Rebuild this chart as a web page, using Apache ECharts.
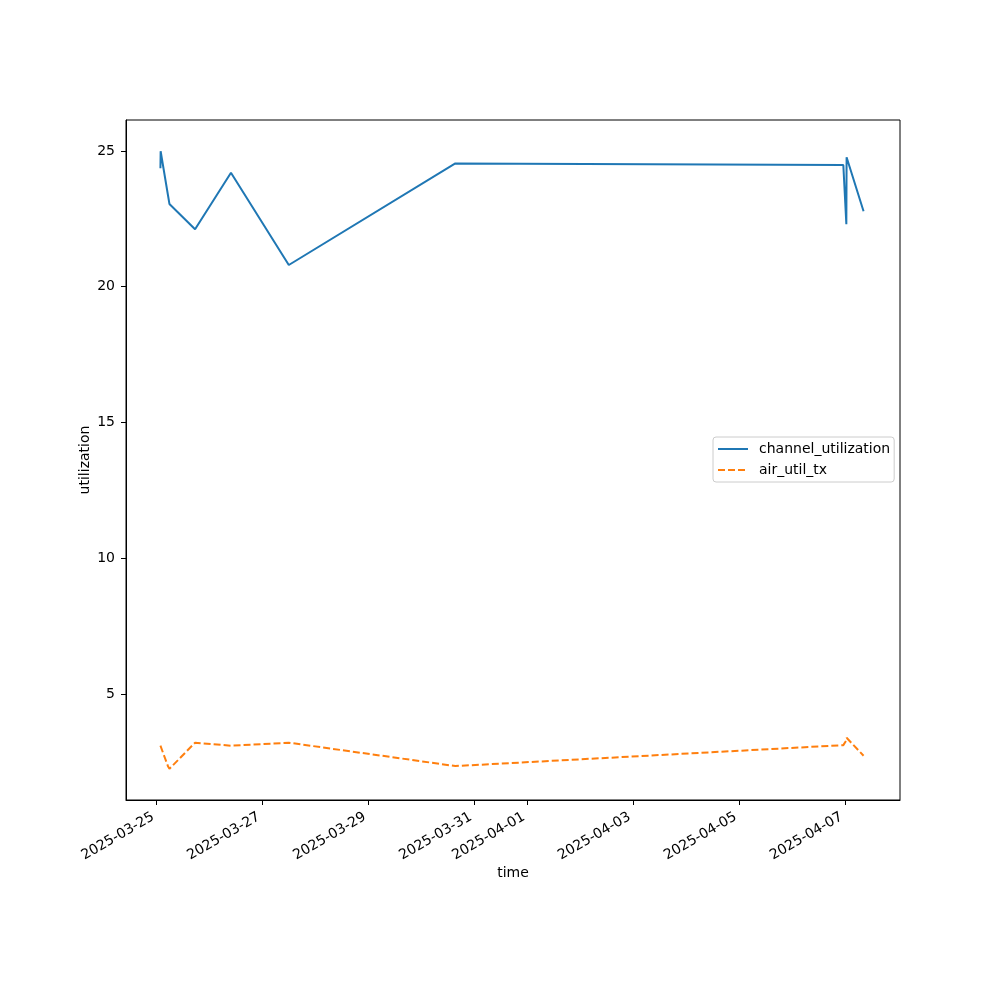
<!DOCTYPE html>
<html>
<head>
<meta charset="utf-8">
<script src="https://cdn.jsdelivr.net/npm/echarts@6/dist/echarts.min.js"></script>
<style>html,body{margin:0;padding:0;background:#fff}#c{width:1000px;height:1000px}</style>
</head>
<body>
<div id="c"></div>
<script>
// sample times (UTC)
const times = [
  '2025-03-25T01:45', '2025-03-25T01:51', '2025-03-25T05:14', '2025-03-25T05:50',
  '2025-03-25T17:27', '2025-03-26T09:43', '2025-03-27T11:56', '2025-03-30T15:24',
  '2025-04-06T23:14', '2025-04-07T00:36', '2025-04-07T00:43', '2025-04-07T08:24'
];
const channelUtilization = [24.36, 24.99, 23.34, 23.05, 22.12, 24.20, 20.80, 24.54, 24.48, 22.30, 24.77, 22.78];
const airUtilTx = [3.10, 3.08, 2.33, 2.25, 3.21, 3.10, 3.21, 2.35, 3.12, 3.30, 3.39, 2.73];
const xTickLabels = ['2025-03-25', '2025-03-27', '2025-03-29', '2025-03-31', '2025-04-01', '2025-04-03', '2025-04-05', '2025-04-07'];
const yTickValues = [5, 10, 15, 20, 25];
const xMinStr = '2025-03-24T10:09';
const xMaxStr = '2025-04-08T00:55';
const yMin = 1.1, yMax = 26.14;

function toMs(s) {
  const [d, t] = s.split('T');
  const [Y, M, D] = d.split('-').map(Number);
  const [h, m] = (t || '00:00').split(':').map(Number);
  return Date.UTC(Y, M - 1, D, h, m);
}
function fmt(ms) {
  const d = new Date(ms);
  const p = n => String(n).padStart(2, '0');
  return d.getUTCFullYear() + '-' + p(d.getUTCMonth() + 1) + '-' + p(d.getUTCDate());
}
const xTickValues = xTickLabels.map(s => toMs(s));
const cuData = times.map((t, i) => [toMs(t), channelUtilization[i]]);
const atData = times.map((t, i) => [toMs(t), airUtilTx[i]]);

const FONT = 'DejaVu Sans';
const chart = echarts.init(document.getElementById('c'), null, {renderer: 'canvas'});
chart.setOption({
  animation: false,
  backgroundColor: '#fff',
  textStyle: {fontFamily: FONT},
  grid: {left: 126, top: 120, width: 774, height: 680, show: true, borderColor: '#000', borderWidth: 1, backgroundColor: 'transparent'},
  xAxis: {
    type: 'value',
    min: toMs(xMinStr), max: toMs(xMaxStr),
    name: 'time', nameLocation: 'middle', nameGap: 66, nameMoveOverlap: false,
    nameTextStyle: {fontFamily: FONT, fontSize: 14, color: '#000'},
    axisLine: {lineStyle: {color: '#000', width: 1}},
    axisTick: {show: true, length: 5, lineStyle: {color: '#000'}, customValues: xTickValues},
    axisLabel: {rotate: 30, fontFamily: FONT, fontSize: 14, color: '#000', margin: 14, padding: [0, 4, 0, 0], customValues: xTickValues, formatter: v => fmt(v)},
    splitLine: {show: false}
  },
  yAxis: {
    type: 'value',
    min: yMin, max: yMax,
    name: 'utilization', nameLocation: 'middle', nameGap: 34, nameRotate: 90, nameMoveOverlap: false,
    nameTextStyle: {fontFamily: FONT, fontSize: 14, color: '#000'},
    axisLine: {show: true, lineStyle: {color: '#000', width: 1}},
    axisTick: {show: true, length: 5, lineStyle: {color: '#000'}, customValues: yTickValues},
    axisLabel: {fontFamily: FONT, fontSize: 14, color: '#000', margin: 11, customValues: yTickValues},
    splitLine: {show: false}
  },
  legend: {
    orient: 'vertical', left: 713, top: 437,
    padding: [5, 4, 5, 4],
    itemWidth: 30, itemHeight: 14, itemGap: 7,
    itemStyle: {opacity: 0},
    backgroundColor: '#fff', borderColor: '#cccccc', borderWidth: 1, borderRadius: 3,
    textStyle: {fontFamily: FONT, fontSize: 14, color: '#000', padding: [0, 0, 0, 6]},
    data: [{name: 'channel_utilization'}, {name: 'air_util_tx'}]
  },
  series: [
    {name: 'channel_utilization', type: 'line', data: cuData, symbol: 'none', showSymbol: false,
     lineStyle: {color: '#1f77b4', width: 2}, itemStyle: {color: '#1f77b4'}},
    {name: 'air_util_tx', type: 'line', data: atData, symbol: 'none', showSymbol: false,
     lineStyle: {color: '#ff7f0e', width: 2, type: [7, 3]}, itemStyle: {color: '#ff7f0e'}}
  ]
});
</script>
</body>
</html>
